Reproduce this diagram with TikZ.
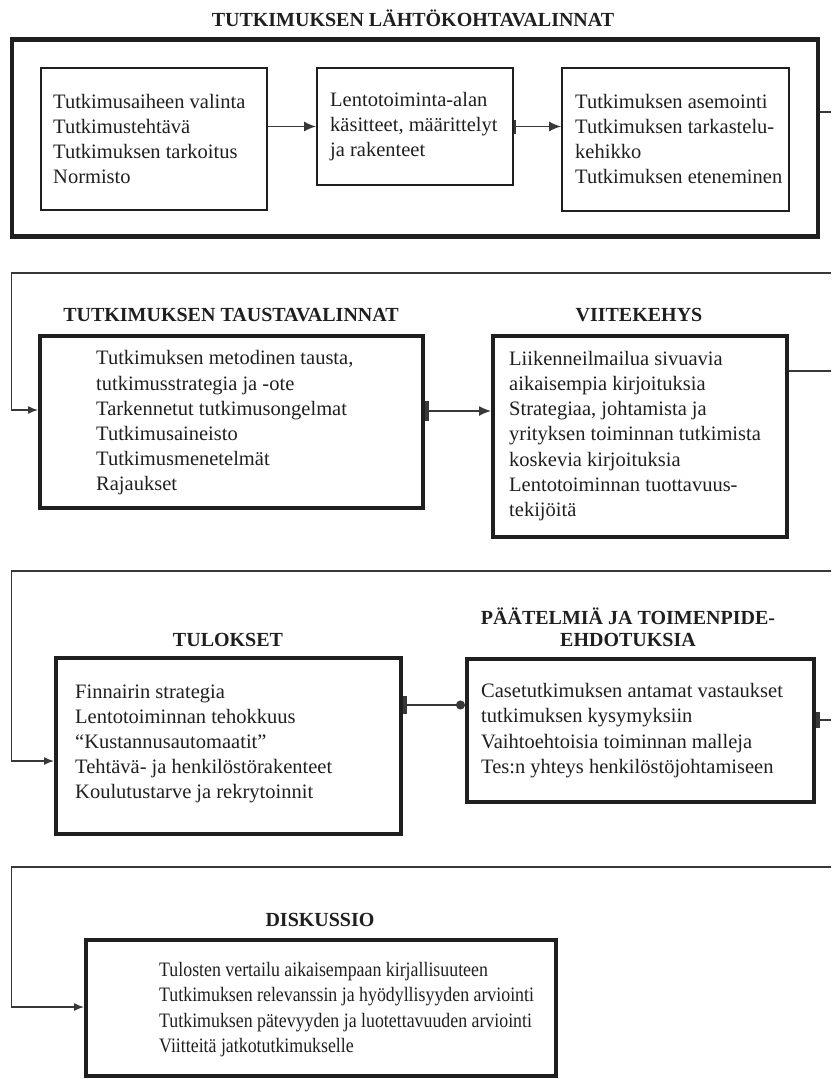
\documentclass[tikz,border=0pt]{standalone}
\usepackage{fontspec}
\setmainfont{Liberation Serif}
\newfontfamily\condf[FakeStretch=0.87]{Liberation Serif}
\usetikzlibrary{arrows.meta}
\definecolor{ink}{gray}{0.12}
\definecolor{lin}{gray}{0.22}
\tikzset{
  thickbox/.style={draw=ink, line width=4pt, inner sep=0pt},
  thinbox/.style={draw=ink, line width=1.8pt, inner sep=0pt},
  framebox/.style={draw=ink, line width=4.5pt, inner sep=0pt},
  body/.style={font=\fontsize{20.5}{25.2}\selectfont, align=left, anchor=west, inner sep=0pt, text=ink},
  bodyh/.style={font=\condf\fontsize{20.5}{25.2}\selectfont, align=left, anchor=west, inner sep=0pt, text=ink},
  head/.style={font=\bfseries\fontsize{20}{21.5}\selectfont, align=center, inner sep=0pt, text=ink},
  conn/.style={draw=lin, line width=1.4pt},
  tri/.style={-{Latex[length=10pt,width=8pt]}},
  bigtri/.style={-{Latex[length=12pt,width=10pt]}},
}
\begin{document}
\begin{tikzpicture}[x=1pt, y=-1pt]
\useasboundingbox (0,0) rectangle (831,1079);

% ---------- section 1
\node[head] (t1) at (413,18) {TUTKIMUKSEN LÄHTÖKOHTAVALINNAT};
\node[framebox, minimum width=806pt, minimum height=197pt] (fr) at (415,138) {};
\node[thinbox, minimum width=226pt, minimum height=142pt] (A) at (154,139) {};
\node[thinbox, minimum width=196pt, minimum height=117pt] (B) at (415,126.5) {};
\node[thinbox, minimum width=227pt, minimum height=143pt] (C) at (675.5,139.5) {};
\node[body] (tA) at (53,139) {Tutkimusaiheen valinta\\Tutkimustehtävä\\Tutkimuksen tarkoitus\\Normisto};
\node[body] (tB) at (330,126.5) {Lentotoiminta-alan\\käsitteet, määrittelyt\\ja rakenteet};
\node[body] (tC) at (575,139) {Tutkimuksen asemointi\\Tutkimuksen tarkastelu-\\kehikko\\Tutkimuksen eteneminen};
\draw[conn, bigtri] (A.east |- B.west) -- (B.west);
\draw[conn, {Rectangle[length=2.5pt,width=14pt]}-{Latex[length=12pt,width=10pt]}] (B.east) -- (B.east -| C.west);
\coordinate (r1) at (831,112);
\draw[conn] (fr.east |- r1) -- (r1);

% ---------- section 2
\node[head] (t2) at (231,315) {TUTKIMUKSEN TAUSTAVALINNAT};
\node[head] (t3) at (639,315) {VIITEKEHYS};
\node[thickbox, minimum width=383pt, minimum height=172pt] (D) at (231.5,422) {};
\node[thickbox, minimum width=294pt, minimum height=201pt] (E) at (640,436.5) {};
\node[body] (tD) at (96,423) {Tutkimuksen metodinen tausta,\\tutkimusstrategia ja -ote\\Tarkennetut tutkimusongelmat\\Tutkimusaineisto\\Tutkimusmenetelmät\\Rajaukset};
\node[body] (tE) at (509,436) {Liikenneilmailua sivuavia\\aikaisempia kirjoituksia\\Strategiaa, johtamista ja\\yrityksen toiminnan tutkimista\\koskevia kirjoituksia\\Lentotoiminnan tuottavuus-\\tekijöitä};
\coordinate (r2) at (831,273);
\coordinate (l2) at (11.5,273);
\draw[conn, tri] (r2) -- (l2) |- ([yshift=12pt]D.west);
\draw[conn, {Rectangle[length=4pt,width=20pt]}-{Latex[length=12pt,width=10pt]}] ([yshift=11pt]D.east) -- ([yshift=11pt]D.east -| E.west);
\coordinate (r3) at (831,371);
\draw[conn] (E.east |- r3) -- (r3);

% ---------- section 3
\node[head] (t4) at (228,640) {TULOKSET};
\node[head] (t5) at (628,627.5) {PÄÄTELMIÄ JA TOIMENPIDE-\\EHDOTUKSIA};
\node[thickbox, minimum width=345pt, minimum height=176pt] (F) at (228.5,746) {};
\node[thickbox, minimum width=347pt, minimum height=143pt] (G) at (640.5,730.5) {};
\node[body] (tF) at (75,744) {Finnairin strategia\\Lentotoiminnan tehokkuus\\“Kustannusautomaatit”\\Tehtävä- ja henkilöstörakenteet\\Koulutustarve ja rekrytoinnit};
\node[body] (tG) at (481,730.5) {Casetutkimuksen antamat vastaukset\\tutkimuksen kysymyksiin\\Vaihtoehtoisia toiminnan malleja\\Tes:n yhteys henkilöstöjohtamiseen};
\coordinate (r4) at (831,571);
\coordinate (l4) at (11.5,571);
\draw[conn, tri] (r4) -- (l4) |- ([yshift=-15pt]F.west);
\draw[conn, {Rectangle[length=4pt,width=18pt]}-{Circle[length=9pt]}] ([yshift=41pt]F.east) -- ([yshift=41pt]F.east -| G.west);
\coordinate (r5) at (831,720);
\draw[conn, {Rectangle[length=4pt,width=16pt]}-] (G.east |- r5) -- (r5);

% ---------- section 4
\node[head] (t6) at (320,920) {DISKUSSIO};
\node[thickbox, minimum width=470pt, minimum height=136pt] (H) at (321,1008) {};
\node[bodyh] (tH) at (159,1009.5) {Tulosten vertailu aikaisempaan kirjallisuuteen\\Tutkimuksen relevanssin ja hyödyllisyyden arviointi\\Tutkimuksen pätevyyden ja luotettavuuden arviointi\\Viitteitä jatkotutkimukselle};
\coordinate (r6) at (831,867);
\coordinate (l6) at (11.5,867);
\draw[conn, tri] (r6) -- (l6) |- ([yshift=1pt]H.west);
\end{tikzpicture}
\end{document}
